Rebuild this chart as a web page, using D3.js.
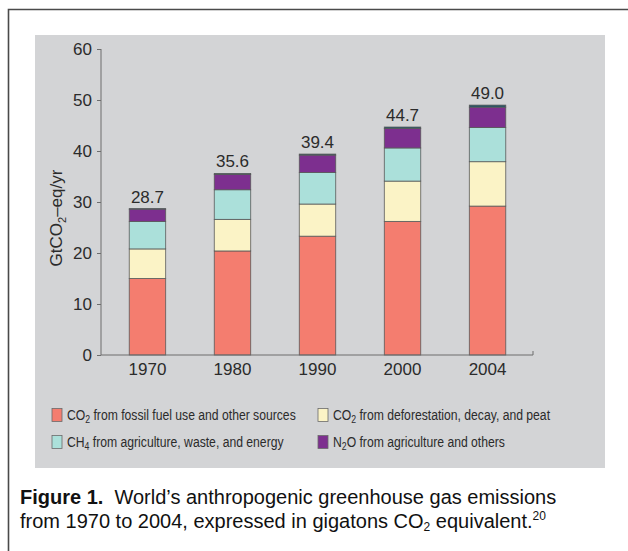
<!DOCTYPE html>
<html><head><meta charset="utf-8">
<script src="https://cdn.jsdelivr.net/npm/d3@7"></script>
<style>
html,body{margin:0;padding:0;background:#fff;}
svg{display:block;font-family:"Liberation Sans",Arial,Helvetica,sans-serif;}
</style></head>
<body>
<svg id="chart" width="628" height="551"></svg>
<script>
const years = ["1970","1980","1990","2000","2004"];
const fossilCO2 = [15.0, 20.4, 23.3, 26.2, 29.2];
const deforestCO2 = [5.8, 6.2, 6.3, 7.9, 8.7];
const ch4 = [5.4, 5.8, 6.2, 6.5, 6.7];
const n2o = [2.4, 3.0, 3.4, 3.8, 4.0];
const fGases = [0.1, 0.2, 0.2, 0.3, 0.4];
const totalLabels = ["28.7","35.6","39.4","44.7","49.0"];
const yTicks = [0,10,20,30,40,50,60];
const seriesKeys = ["fossil","deforest","ch4","n2o","fgas"];
const seriesColors = ["#f47d6f","#fbf3c6","#abe0da","#7d2f8f","#1f5566"];
const legendLabels = [
  [["CO"],["2","sub"],[" from fossil fuel use and other sources"]],
  [["CO"],["2","sub"],[" from deforestation, decay, and peat"]],
  [["CH"],["4","sub"],[" from agriculture, waste, and energy"]],
  [["N"],["2","sub"],["O from agriculture and others"]]
];

const svg = d3.select("#chart");

// frame
svg.append("path").attr("d","M8.5,551 L8.5,9.5 L628,9.5")
  .attr("fill","none").attr("stroke","#4a4a4a").attr("stroke-width",1.6);
// gray panel
svg.append("rect").attr("x",35).attr("y",35).attr("width",570).attr("height",433).attr("fill","#d3d4d6");

const table = years.map((y,i)=>({year:y, fossil:fossilCO2[i], deforest:deforestCO2[i], ch4:ch4[i], n2o:n2o[i], fgas:fGases[i], label:totalLabels[i]}));
const stack = d3.stack().keys(seriesKeys)(table);

const x = d3.scaleBand().domain(years).range([101,534]).paddingInner(0.571).paddingOuter(0.332);
const y = d3.scaleLinear().domain([0,60]).range([355,49]);
const color = d3.scaleOrdinal().domain(seriesKeys).range(seriesColors);

// bars
svg.append("g").selectAll("g").data(stack).join("g")
  .attr("fill",d=>color(d.key))
  .selectAll("rect").data(d=>d).join("rect")
  .attr("x",d=>x(d.data.year)).attr("width",x.bandwidth())
  .attr("y",d=>y(d[1])).attr("height",d=>y(d[0])-y(d[1]))
  .attr("stroke","#5a5a5a").attr("stroke-width",0.8);

const axisFont = "'Liberation Sans',Arial,sans-serif";
// y axis
const yAxis = svg.append("g").attr("transform","translate(101,0)")
  .call(d3.axisLeft(y).tickValues(yTicks).tickSize(4).tickPadding(5).tickFormat(d3.format("d")));
yAxis.select(".domain").attr("stroke","#6d6d6d").attr("d","M0,49V355");
yAxis.selectAll(".tick line").attr("stroke","#6d6d6d");
yAxis.selectAll(".tick text").attr("fill","#2b2b2b").style("font-size","17px").style("font-family",axisFont);

// x axis
const xAxis = svg.append("g").attr("transform","translate(0,355)")
  .call(d3.axisBottom(x).tickSize(0).tickPadding(8));
xAxis.select(".domain").attr("stroke","#6d6d6d").attr("d","M101,0H533V-4");
xAxis.selectAll(".tick text").attr("fill","#2b2b2b").style("font-size","17px").style("font-family",axisFont);

// total labels
svg.append("g").selectAll("text").data(table).join("text")
  .attr("x",d=>x(d.year)+x.bandwidth()/2)
  .attr("y",d=>y(d3.sum(seriesKeys,k=>d[k]))-6)
  .attr("text-anchor","middle").attr("fill","#2b2b2b").style("font-size","17px")
  .text(d=>d.label);

// y label
const yl = svg.append("text").attr("transform","translate(62,218) rotate(-90)")
  .attr("text-anchor","middle").attr("fill","#2b2b2b").style("font-size","17px");
yl.append("tspan").text("GtCO");
yl.append("tspan").text("2").style("font-size","11px").attr("dy",4);
yl.append("tspan").text("–eq/yr").attr("dy",-4);

// legend
const legendKeys = ["fossil","deforest","ch4","n2o"];
const lg = svg.append("g").selectAll("g").data(legendKeys).join("g")
  .attr("transform",(d,i)=>`translate(${i%2===0?52:318},${i<2?415:442})`);
lg.append("rect").attr("x",0).attr("y",-6.5).attr("width",10).attr("height",13)
  .attr("fill",d=>color(d)).attr("stroke","#6a6a6a").attr("stroke-width",0.8);
lg.each(function(d,i){
  const t = d3.select(this).append("text").attr("transform","translate(15,5) scale(0.87,1)")
    .attr("fill","#2b2b2b").style("font-size","14px");
  legendLabels[i].forEach(p=>{
    if(p[1]==="sub"){ t.append("tspan").text(p[0]).style("font-size","10px").attr("dy",3); }
    else { const s=t.append("tspan").text(p[0]); if(t.selectAll("tspan").size()>1) s.attr("dy",-3); }
  });
});

// caption
const c1 = svg.append("text").attr("x",20).attr("y",504).attr("fill","#111").style("font-size","20px");
c1.append("tspan").text("Figure 1.").style("font-weight","bold");
c1.append("tspan").text("\u00a0 World’s anthropogenic greenhouse gas emissions");
const c2 = svg.append("text").attr("x",20).attr("y",528).attr("fill","#111").style("font-size","20px");
c2.append("tspan").text("from 1970 to 2004, expressed in gigatons CO");
c2.append("tspan").text("2").style("font-size","12px").attr("dy",3);
c2.append("tspan").text(" equivalent.").attr("dy",-3);
c2.append("tspan").text("20").style("font-size","12px").attr("dy",-8);
</script>
</body></html>
